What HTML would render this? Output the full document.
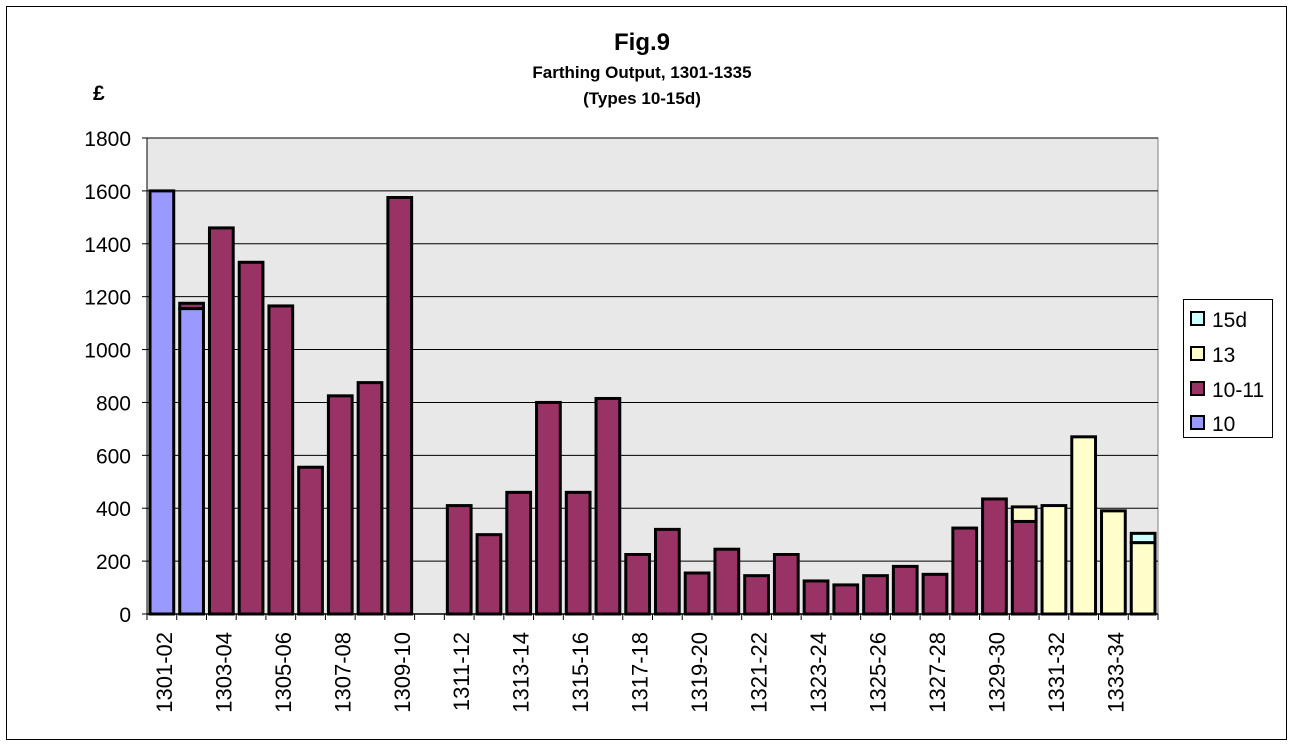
<!DOCTYPE html>
<html><head><meta charset="utf-8"><style>
html,body{margin:0;padding:0;background:#fff;}
svg{display:block;font-family:"Liberation Sans",Arial,sans-serif;}
</style></head><body>
<svg id="c" width="1293" height="746" xmlns="http://www.w3.org/2000/svg">
<rect x="6.5" y="6.5" width="1280" height="733" fill="#fff" stroke="#000" stroke-width="1"/>
<text x="642" y="50" font-size="24" font-weight="bold" text-anchor="middle">Fig.9</text>
<text x="642" y="78" font-size="17" font-weight="bold" text-anchor="middle">Farthing Output, 1301-1335</text>
<text x="642" y="104" font-size="17" font-weight="bold" text-anchor="middle">(Types 10-15d)</text>
<text x="93" y="100" font-size="21" font-weight="bold">£</text>
<rect x="147" y="138" width="1011" height="476" fill="#e8e8e8" stroke="#808080" stroke-width="1"/>
<g id="g"></g>
<rect x="1183.5" y="299.5" width="89" height="138" fill="#fff" stroke="#000" stroke-width="1"/>
<rect x="1191" y="312" width="13" height="13" fill="#ccffff" stroke="#000" stroke-width="2"/>
<text x="1212" y="327" font-size="21">15d</text>
<rect x="1191" y="347" width="13" height="13" fill="#ffffcc" stroke="#000" stroke-width="2"/>
<text x="1212" y="362" font-size="21">13</text>
<rect x="1191" y="382" width="13" height="13" fill="#993366" stroke="#000" stroke-width="2"/>
<text x="1212" y="397" font-size="21">10-11</text>
<rect x="1191" y="416" width="13" height="13" fill="#9999ff" stroke="#000" stroke-width="2"/>
<text x="1212" y="431" font-size="21">10</text>
</svg>
<script>
var g=document.getElementById('g'),ns='http://www.w3.org/2000/svg';
function el(t,a,txt){var e=document.createElementNS(ns,t);for(var k in a)e.setAttribute(k,a[k]);if(txt)e.textContent=txt;g.appendChild(e);return e;}
var x0=147,x1=1158,y0=614,sc=476/1800,n=34,cw=(x1-x0)/n;
for(var v=0;v<=1800;v+=200){var y=y0-v*sc;
 if(v>0)el('line',{x1:x0,x2:x1,y1:y,y2:y,stroke:'#000','stroke-width':1});
 el('line',{x1:x0-5,x2:x0,y1:y,y2:y,stroke:'#000'});
 el('text',{x:x0-16,y:y+8,'font-size':21,'text-anchor':'end'},String(v));}
var d=[[1600,0,0,0],[1155,20,0,0],[0,1460,0,0],[0,1330,0,0],[0,1165,0,0],[0,555,0,0],[0,825,0,0],[0,875,0,0],[0,1575,0,0],[0,0,0,0],
[0,410,0,0],[0,300,0,0],[0,460,0,0],[0,800,0,0],[0,460,0,0],[0,815,0,0],[0,225,0,0],[0,320,0,0],[0,155,0,0],[0,245,0,0],
[0,145,0,0],[0,225,0,0],[0,125,0,0],[0,110,0,0],[0,145,0,0],[0,180,0,0],[0,150,0,0],[0,325,0,0],[0,435,0,0],[0,350,55,0],
[0,0,410,0],[0,0,670,0],[0,0,390,0],[0,0,270,35]];
var cols=['#9999ff','#993366','#ffffcc','#ccffff'];
for(var i=0;i<n;i++){var bx=x0+i*cw+3,bw=cw-6,acc=0;
 for(var s=0;s<4;s++){var h=d[i][s];if(!h)continue;
  var yt=y0-(acc+h)*sc,yb=y0-acc*sc;
  el('rect',{x:bx,y:yt,width:bw,height:yb-yt,fill:cols[s],stroke:'#000','stroke-width':3});acc+=h;}
}
el('line',{x1:x0,x2:x1,y1:y0,y2:y0,stroke:'#000','stroke-width':1.5});
el('line',{x1:x0,x2:x0,y1:138,y2:y0,stroke:'#000','stroke-width':1});
for(var i=0;i<=n;i++){var x=x0+i*cw;el('line',{x1:x,x2:x,y1:y0,y2:y0+6,stroke:'#000'});}
for(var i=0;i<n;i+=2){var cx=x0+(i+0.5)*cw+10,yr=1301+i;
 var lab=yr+'-'+String((yr+1)%100).padStart(2,'0');
 el('text',{x:0,y:0,'font-size':22,'text-anchor':'end',transform:'translate('+cx+',632) rotate(-90)'},lab);}
</script>
</body></html>
